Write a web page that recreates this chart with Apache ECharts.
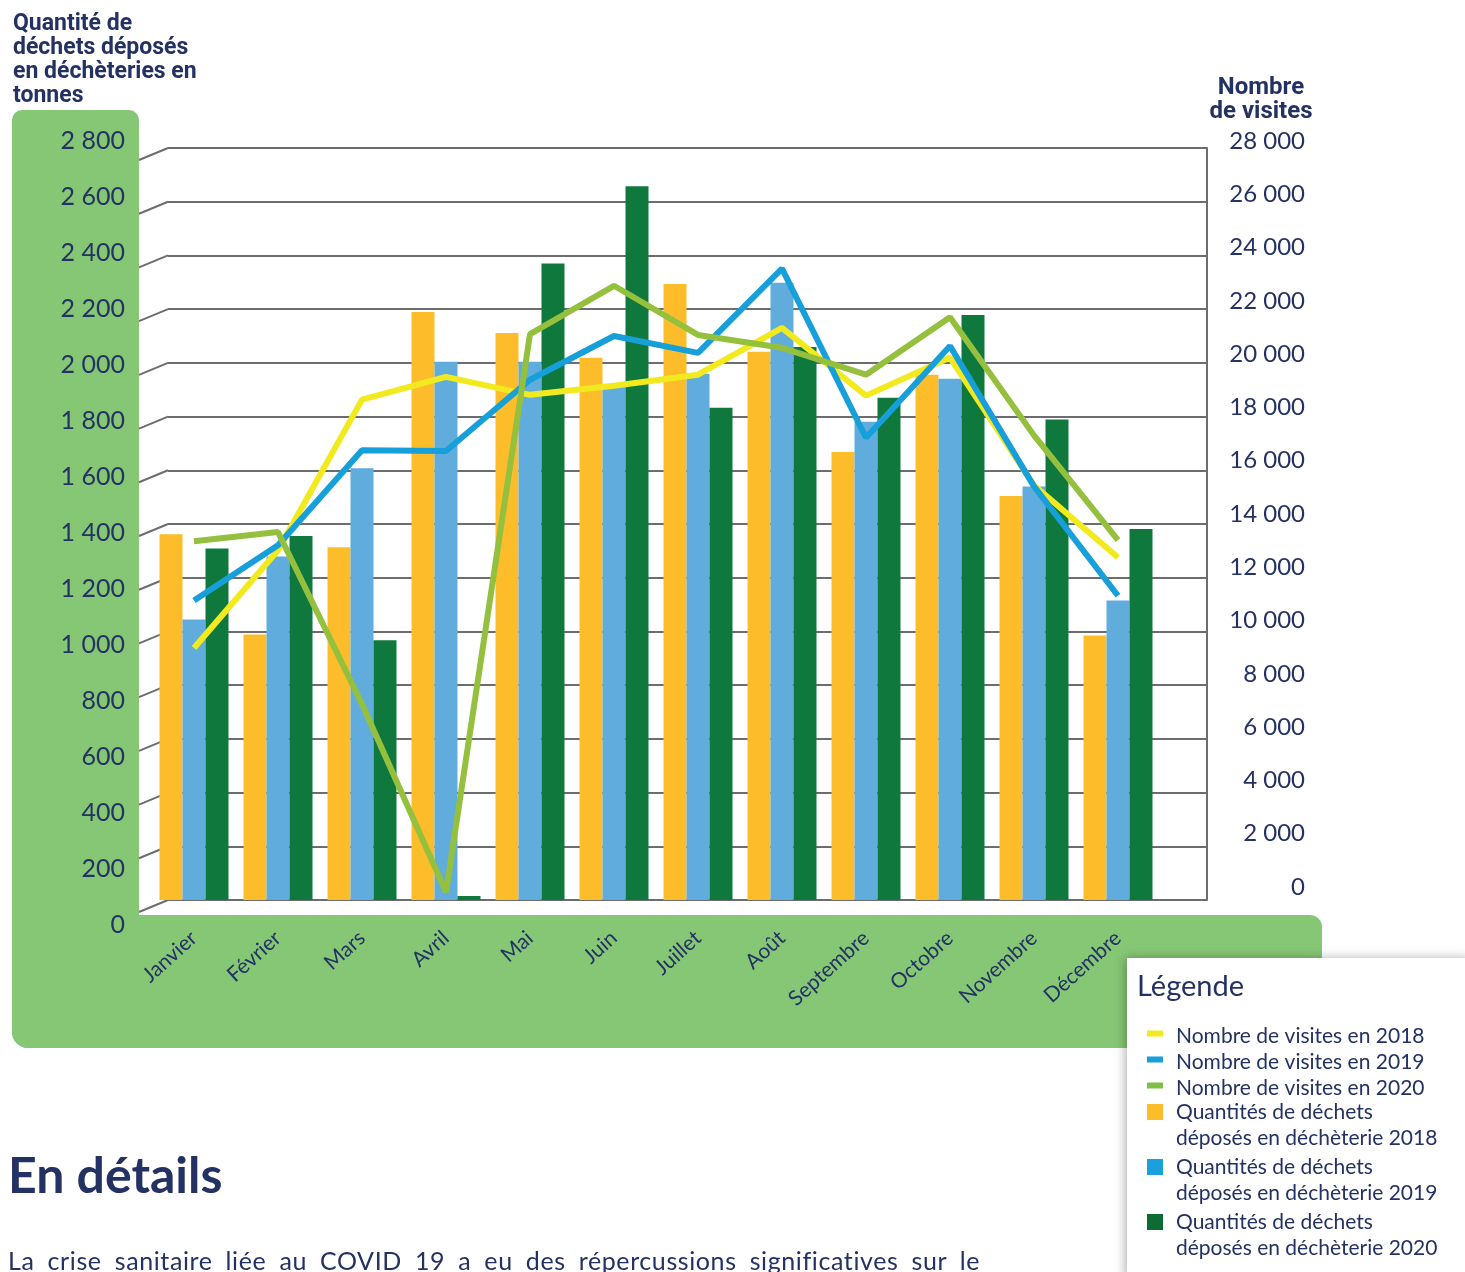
<!DOCTYPE html>
<html lang="fr">
<head>
<meta charset="UTF-8">
<title>Déchèteries - visites et tonnages</title>
<script src="https://cdn.jsdelivr.net/npm/echarts@6/dist/echarts.min.js"></script>
<style>
    html, body { margin: 0; padding: 0; background: #fff; overflow: hidden; }
    #chart { position: absolute; left: 0; top: 0; width: 1465px; height: 1272px; }
    .titre-details {
        position: absolute; left: 8px; top: 1149px; margin: 0;
        font: bold 50px/50px Lato, sans-serif; color: #243163;
    }
    .texte {
        position: absolute; left: 8px; top: 1248px; width: 972px; margin: 0;
        font: 25px/25px Lato, sans-serif; letter-spacing: 0.6px; color: #243163;
        text-align: justify; text-align-last: justify; white-space: nowrap;
    }
</style>
</head>
<body>
<div id="chart"></div>
<h2 class="titre-details">En détails</h2>
<p class="texte">La crise sanitaire liée au COVID 19 a eu des répercussions significatives sur le</p>

<script>
    // données
    var months = ['Janvier', 'Février', 'Mars', 'Avril', 'Mai', 'Juin', 'Juillet', 'Août', 'Septembre', 'Octobre', 'Novembre', 'Décembre'];

    // tonnes déposées (axe de gauche)
    var dechets2018 = [1362, 989, 1313, 2189, 2111, 2019, 2294, 2041, 1668, 1956, 1504, 985];
    var dechets2019 = [1044, 1279, 1608, 2004, 2004, 1915, 1959, 2298, 1781, 1941, 1540, 1115];
    var dechets2020 = [1309, 1355, 967, 15, 2370, 2658, 1833, 2059, 1870, 2178, 1789, 1381];

    // nombre de visites (axe de droite)
    var visites2018 = [9380, 13020, 18630, 19480, 18810, 19150, 19560, 21300, 18780, 20200, 15440, 12750];
    var visites2019 = [11150, 13210, 16750, 16720, 19370, 21000, 20370, 23510, 17210, 20630, 15400, 11330];
    var visites2020 = [13360, 13700, 7300, 300, 21070, 22870, 21040, 20560, 19560, 21700, 17300, 13400];

    var navy = '#243163';
    var gridGrey = '#6d6d6f';
    var fond = '#86c776';

    var nomV18 = 'Nombre de visites en 2018';
    var nomV19 = 'Nombre de visites en 2019';
    var nomV20 = 'Nombre de visites en 2020';
    var nomD18 = 'Quantités de déchets\ndéposés en déchèterie 2018';
    var nomD19 = 'Quantités de déchets\ndéposés en déchèterie 2019';
    var nomD20 = 'Quantités de déchets\ndéposés en déchèterie 2020';

    function espace(v) {
        return String(v).replace(/\B(?=(\d{3})+(?!\d))/g, ' ');
    }

    var lineIcon = 'path://M0,0M0,2H16V8H0ZM16,16';
    var squareIcon = 'path://M0,0H16V16H0ZM16,42';

    var chart = echarts.init(document.getElementById('chart'));
    var option = {
        animation: false,
        grid: [
            // quadrillage
            {left: 168, right: 258, top: 148, bottom: 372, outerBoundsMode: 'none'},
            // barres et courbes
            {left: 152, right: 305, top: 148, bottom: 372, outerBoundsMode: 'none'},
            // étiquettes de gauche
            {left: 139, right: 1000, top: 141, bottom: 347, outerBoundsMode: 'none'},
            // étiquettes de droite
            {left: 1000, right: 258, top: 141, bottom: 385, outerBoundsMode: 'none'}
        ],
        xAxis: [
            {gridIndex: 0, type: 'value', show: false},
            {
                gridIndex: 1, type: 'category', data: months,
                axisLine: {show: false}, axisTick: {show: false},
                axisLabel: {interval: 0, rotate: 42, margin: 35, color: navy, fontFamily: 'Lato', fontSize: 21}
            },
            {gridIndex: 2, type: 'value', show: false},
            {gridIndex: 3, type: 'value', show: false}
        ],
        yAxis: [
            {
                gridIndex: 0, type: 'value', min: 0, max: 2800, interval: 200,
                axisLine: {show: false}, axisTick: {show: false}, axisLabel: {show: false},
                splitLine: {show: true, lineStyle: {color: gridGrey, width: 2}}
            },
            {
                gridIndex: 0, type: 'value', position: 'right', min: 0, max: 28000, interval: 2000,
                axisLine: {show: true, lineStyle: {color: gridGrey, width: 2}},
                axisTick: {show: false}, axisLabel: {show: false}, splitLine: {show: false}
            },
            {gridIndex: 1, type: 'value', min: 0, max: 2800, show: false},
            {gridIndex: 1, type: 'value', position: 'right', min: 0, max: 28000, show: false},
            {
                gridIndex: 2, type: 'value', min: 0, max: 2800, interval: 200,
                axisLine: {show: false}, axisTick: {show: false}, splitLine: {show: false},
                axisLabel: {margin: 14, color: navy, fontFamily: 'Lato', fontSize: 25, formatter: espace}
            },
            {
                gridIndex: 3, type: 'value', position: 'right', min: 0, max: 28000, interval: 2000,
                axisLine: {show: false}, axisTick: {show: false}, splitLine: {show: false},
                axisLabel: {margin: 98, align: 'right', color: navy, fontFamily: 'Lato', fontSize: 24, formatter: espace}
            }
        ],
        legend: [
            {
                orient: 'vertical', left: 1147, top: 1026, padding: 0, itemGap: 5,
                itemWidth: 16, itemHeight: 16, selectedMode: false,
                textStyle: {color: navy, fontFamily: 'Lato', fontSize: 21, lineHeight: 20, padding: [0, 0, 0, 8]},
                data: [
                    {name: nomV18, icon: lineIcon, itemStyle: {color: '#f2ea1e', borderWidth: 0}},
                    {name: nomV19, icon: lineIcon, itemStyle: {color: '#179fda', borderWidth: 0}},
                    {name: nomV20, icon: lineIcon, itemStyle: {color: '#7fbf45', borderWidth: 0}}
                ]
            },
            {
                orient: 'vertical', left: 1147, top: 1099, padding: 0, itemGap: 3,
                itemWidth: 16, itemHeight: 42, selectedMode: false,
                textStyle: {color: navy, fontFamily: 'Lato', fontSize: 21, lineHeight: 26, padding: [0, 0, 0, 8]},
                data: [
                    {name: nomD18, icon: squareIcon, itemStyle: {color: '#fdbd2a', borderWidth: 0}},
                    {name: nomD19, icon: squareIcon, itemStyle: {color: '#1aa1db', borderWidth: 0}},
                    {name: nomD20, icon: squareIcon, itemStyle: {color: '#0e6b33', borderWidth: 0}}
                ]
            }
        ],
        series: [
            {name: nomD18, type: 'bar', xAxisIndex: 1, yAxisIndex: 2, data: dechets2018,
                barWidth: 23, barGap: '0%', itemStyle: {color: '#fdbd2a'}, z: 2},
            {name: nomD19, type: 'bar', xAxisIndex: 1, yAxisIndex: 2, data: dechets2019,
                barWidth: 23, barGap: '0%', itemStyle: {color: '#60addd'}, z: 2},
            {name: nomD20, type: 'bar', xAxisIndex: 1, yAxisIndex: 2, data: dechets2020,
                barWidth: 23, barGap: '0%', itemStyle: {color: '#0e783d'}, z: 2},
            {name: nomV18, type: 'line', xAxisIndex: 1, yAxisIndex: 3, data: visites2018,
                symbol: 'none', lineStyle: {color: '#f2ea1e', width: 6}, itemStyle: {color: '#f2ea1e'}, z: 3},
            {name: nomV19, type: 'line', xAxisIndex: 1, yAxisIndex: 3, data: visites2019,
                symbol: 'none', lineStyle: {color: '#179fda', width: 6}, itemStyle: {color: '#179fda'}, z: 4},
            {name: nomV20, type: 'line', xAxisIndex: 1, yAxisIndex: 3, data: visites2020,
                symbol: 'none', lineStyle: {color: '#94c03e', width: 6}, itemStyle: {color: '#94c03e'}, z: 5}
        ]
    };
    chart.setOption(option);

    // décor : fond vert, départs obliques du quadrillage, cadre de légende, titres
    var elements = [
        {type: 'rect', z: -1, shape: {x: 12, y: 110, width: 127, height: 938, r: [10, 10, 0, 16]}, style: {fill: fond}},
        {type: 'rect', z: -1, shape: {x: 12, y: 915, width: 1310, height: 133, r: [0, 12, 16, 16]}, style: {fill: fond}}
    ];
    for (var v = 0; v <= 2800; v += 200) {
        var y = chart.convertToPixel({yAxisIndex: 0}, v);
        elements.push({type: 'line', z: 1, shape: {x1: 139, y1: y + 12, x2: 168, y2: y},
            style: {stroke: gridGrey, lineWidth: 2}});
    }
    elements.push({type: 'rect', z: 3, shape: {x: 1127, y: 958, width: 345, height: 320},
        style: {fill: '#ffffff', shadowBlur: 10, shadowColor: 'rgba(0,0,0,0.3)', shadowOffsetX: -2}});
    elements.push({type: 'text', z: 5, x: 13, y: 12,
        style: {text: 'Quantité de\ndéchets déposés\nen déchèteries en\ntonnes', fill: navy,
            font: 'bold 23px Roboto', lineHeight: 24, verticalAlign: 'top'}});
    elements.push({type: 'text', z: 5, x: 1261, y: 76,
        style: {text: 'Nombre\nde visites', fill: navy, font: 'bold 24px Roboto', lineHeight: 24,
            align: 'center', verticalAlign: 'top'}});
    elements.push({type: 'text', z: 5, x: 1137, y: 987,
        style: {text: 'Légende', fill: navy, font: '29px Lato', verticalAlign: 'middle'}});

    chart.setOption({graphic: {elements: elements}});
</script>
</body>
</html>
